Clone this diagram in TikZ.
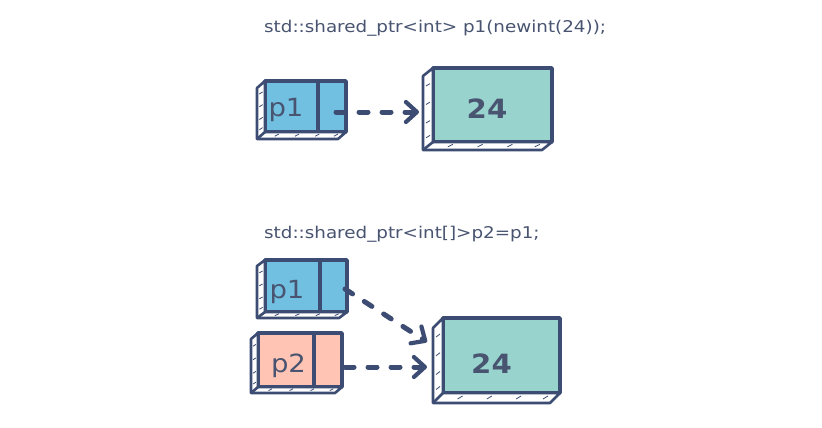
\documentclass[tikz,border=0pt]{standalone}
\usepackage{fontspec}
\newfontfamily\dv[FakeStretch=1.1]{DejaVu Sans}
\newfontfamily\dvcode[FakeStretch=1.13]{DejaVu Sans}
\usetikzlibrary{arrows.meta,calc}
\definecolor{ink}{HTML}{3C4C72}
\definecolor{txt}{HTML}{485470}
\definecolor{ptrblue}{HTML}{71C0E2}
\definecolor{objteal}{HTML}{98D3CE}
\definecolor{ptrpink}{HTML}{FFC4B4}
\tikzset{
  face/.style={draw=ink, line width=3.4pt, line join=round, outer sep=0pt, inner sep=0pt},
  side/.style={draw=ink, fill=white, line width=2.6pt, line join=round},
  hatch/.style={draw=ink, line width=0.8pt},
  codetext/.style={font=\dvcode\fontsize{16.2}{19}\selectfont, text=txt, anchor=base west, inner sep=0pt},
  plabel/.style={font=\dv\fontsize{25}{29}\selectfont, text=txt, anchor=base, inner sep=0pt},
  vlabel/.style={font=\dv\bfseries\fontsize{26.5}{30}\selectfont, text=txt, anchor=base, inner sep=0pt},
  link/.style={draw=ink, line width=5pt, line cap=round, dash pattern=on 9pt off 14pt,
    -{Straight Barb[length=11pt,width=20pt,line width=4.2pt,round]}},
}
\newcommand\extrude[3]{%
  \draw[side] (#1.north west) -- ++(#2,#3) -- ($(#1.south west)+(#2,#3)$) --
    ($(#1.south east)+(#2,#3)$) -- (#1.south east) -- (#1.south west) -- cycle;
  \draw[side] (#1.south west) -- ++(#2,#3);
  \foreach \t in {0.2,0.45,0.7,0.9}
    \draw[hatch] ($(#1.north west)!\t!(#1.south west)+(#2*0.7,#3*0.4)$) -- ++(#2*-0.4,#3*-0.3);
  \foreach \t in {0.15,0.4,0.65,0.88}
    \draw[hatch] ($(#1.south west)!\t!(#1.south east)+(#2*0.3,#3*0.6)$) -- ++(#2*-0.5,#3*-0.3);
}
\begin{document}
\begin{tikzpicture}[x=1pt,y=-1pt]
\useasboundingbox[fill=white] (0,0) rectangle (822,428);

% ---------- top ----------
\node[codetext] (c1) at (264,33) {std::shared\_ptr<int> p1(newint(24));};

\node[face, fill=ptrblue, minimum width=81pt, minimum height=51pt] (tp1) at (305.5,106.5) {};
\extrude{tp1}{-8}{7}
\coordinate (tp1d1) at (318,81);
\coordinate (tp1d2) at (318,132);
\draw[face] (tp1d1) -- (tp1d2);
\node[plabel] (tp1l) at (286,117) {p1};

\node[face, fill=objteal, minimum width=119pt, minimum height=74pt] (to1) at (492.5,105) {};
\extrude{to1}{-10}{8}
\node[vlabel] (to1l) at (487,118) {24};

\coordinate (ta1s) at (336,112);
\coordinate (ta1e) at (419,112);
\draw[link] (ta1s) -- (ta1e);

% ---------- bottom ----------
\node[codetext] (c2) at (264,238) {std::shared\_ptr<int[]>p2=p1;};

\node[face, fill=ptrblue, minimum width=82pt, minimum height=52pt] (bp1) at (306,286) {};
\extrude{bp1}{-8}{6}
\coordinate (bp1d1) at (320,260);
\coordinate (bp1d2) at (320,312);
\draw[face] (bp1d1) -- (bp1d2);
\node[plabel] (bp1l) at (287,298) {p1};

\node[face, fill=ptrpink, minimum width=84pt, minimum height=54pt] (bp2) at (300,360) {};
\extrude{bp2}{-7}{6}
\coordinate (bp2d1) at (314,333);
\coordinate (bp2d2) at (314,387);
\draw[face] (bp2d1) -- (bp2d2);
\node[plabel] (bp2l) at (288.5,372) {p2};

\node[face, fill=objteal, minimum width=117pt, minimum height=75pt] (bo1) at (501.5,355.5) {};
\extrude{bo1}{-10}{10}
\node[vlabel] (bo1l) at (491.5,373) {24};

\coordinate (ba1s) at (345,289);
\coordinate (ba1e) at (427,342);
\draw[link] (ba1s) -- (ba1e);
\coordinate (ba2s) at (345,367);
\coordinate (ba2e) at (427,367);
\draw[link] (ba2s) -- (ba2e);
\end{tikzpicture}
\end{document}
